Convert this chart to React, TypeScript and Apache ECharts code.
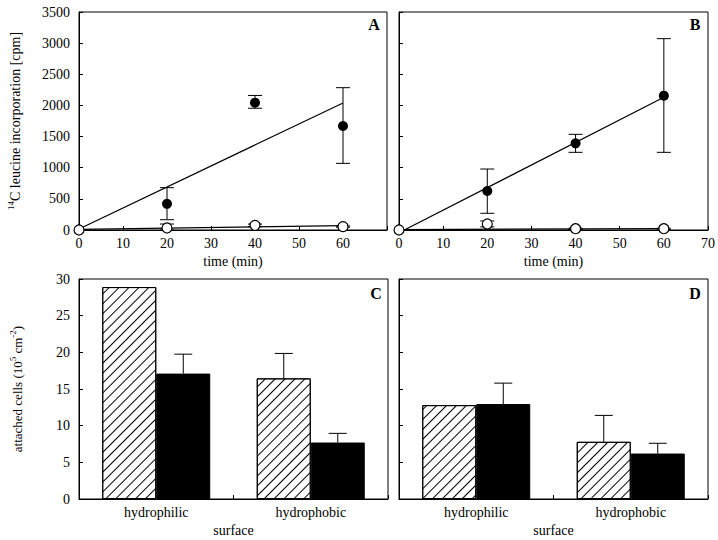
import React, { useEffect, useRef } from 'react';
import * as echarts from 'echarts';

const FONT = 'Liberation Serif';

// ---- Panels A & B: 14C leucine incorporation vs time ----
const timePoints = [0, 20, 40, 60];
const xTicks = { min: 0, max: 70, interval: 10 };
const yTicksLine = { min: 0, max: 3500, interval: 500 };

const filledA = [0, 420, 2045, 1670];
const filledALow = [0, 165, 1955, 1070];
const filledAHigh = [0, 680, 2160, 2285];
const openA = [0, 32, 75, 54];
const openALow = [0, 0, 55, 44];
const openAHigh = [0, 96, 95, 64];
const fitTimeA = [0, 60];
const fitFilledA = [15, 2040];
const fitOpenA = [10, 70];

const filledB = [0, 626, 1391, 2157];
const filledBLow = [0, 268, 1247, 1247];
const filledBHigh = [0, 979, 1536, 3072];
const openB = [0, 96, 21, 21];
const openBLow = [0, 50, 12, 14];
const openBHigh = [0, 145, 30, 28];
const fitTimeB = [1.2, 60];
const fitFilledB = [0, 2130];
const fitOpenB = [6, 22];

// ---- Panels C & D: attached cells ----
const surfaces = ['hydrophilic', 'hydrophobic'];
const yTicksBar = { min: 0, max: 30, interval: 5 };
const hatchedC = [28.9, 16.45];
const hatchedCErr = [null, 19.85];
const blackC = [17.1, 7.7];
const blackCErr = [19.75, 8.95];
const hatchedD = [12.8, 7.8];
const hatchedDErr = [null, 11.4];
const blackD = [12.95, 6.2];
const blackDErr = [15.8, 7.6];

const pairs = (xs: number[], ys: number[]) => xs.map((x, i) => [x, ys[i]]);
const errData = (lo: number[], hi: number[]) =>
  timePoints.map((t, i) => [t, lo[i], hi[i]]).filter((d) => d[2] > d[1]);
const barErrData = (vals: number[], errs: (number | null)[]) =>
  vals.map((v, i) => [i, v, errs[i]]).filter((d) => d[2] != null);

const blackLine = { color: '#000', width: 1 };

function lineErrRender(half: number) {
  return (params: any, api: any) => {
    const x = api.value(0);
    const a = api.coord([x, api.value(1)]);
    const b = api.coord([x, api.value(2)]);
    const st = { stroke: '#000', lineWidth: 1 };
    return {
      type: 'group',
      children: [
        { type: 'line', shape: { x1: a[0], y1: a[1], x2: b[0], y2: b[1] }, style: st },
        { type: 'line', shape: { x1: a[0] - half, y1: a[1], x2: a[0] + half, y2: a[1] }, style: st },
        { type: 'line', shape: { x1: b[0] - half, y1: b[1], x2: b[0] + half, y2: b[1] }, style: st },
      ],
    };
  };
}

function barErrRender(offset: number, half: number) {
  return (params: any, api: any) => {
    const c = api.value(0);
    const a = api.coord([c, api.value(1)]);
    const b = api.coord([c, api.value(2)]);
    const x = a[0] + offset;
    const st = { stroke: '#000', lineWidth: 1 };
    return {
      type: 'group',
      children: [
        { type: 'line', shape: { x1: x, y1: a[1], x2: x, y2: b[1] }, style: st },
        { type: 'line', shape: { x1: x - half, y1: b[1], x2: x + half, y2: b[1] }, style: st },
      ],
    };
  };
}

const labelStyle = { fontFamily: FONT, fontSize: 14, color: '#000' };

function valueX(gridIndex: number, hideMax: boolean) {
  return {
    type: 'value',
    gridIndex,
    ...xTicks,
    name: 'time (min)',
    nameLocation: 'middle',
    nameGap: 24,
    nameTextStyle: { fontFamily: FONT, fontSize: 14, color: '#000' },
    axisLine: { show: true, onZero: false, lineStyle: blackLine },
    axisTick: { show: true, inside: true, length: 4, lineStyle: blackLine },
    axisLabel: { ...labelStyle, margin: 6, formatter: (v: number) => (hideMax && v === 70 ? '' : String(v)) },
    splitLine: { show: false },
  };
}

function catX(gridIndex: number) {
  return {
    type: 'category',
    gridIndex,
    data: surfaces,
    name: 'surface',
    nameLocation: 'middle',
    nameGap: 24,
    nameTextStyle: { fontFamily: FONT, fontSize: 14, color: '#000' },
    axisLine: { show: true, lineStyle: blackLine },
    axisTick: { show: true, inside: true, length: 4, lineStyle: blackLine },
    axisLabel: { ...labelStyle, margin: 6 },
    splitLine: { show: false },
  };
}

function valueY(gridIndex: number, ticks: any, showLabels: boolean, name?: string, rich?: any, nameGap?: number) {
  return {
    type: 'value',
    gridIndex,
    ...ticks,
    name: name || '',
    nameLocation: 'middle',
    nameGap: nameGap || 50,
    nameTextStyle: { fontFamily: FONT, fontSize: 14, color: '#000', rich },
    axisLine: { show: true, onZero: false, lineStyle: blackLine },
    axisTick: { show: true, inside: true, length: 4, lineStyle: blackLine },
    axisLabel: { ...labelStyle, margin: 9, show: showLabels, formatter: (v: number) => String(v) },
    splitLine: { show: false },
  };
}

const richSup = {
  n: { fontFamily: FONT, fontSize: 14, color: '#000', lineHeight: 18 },
  s: { fontFamily: FONT, fontSize: 9, color: '#000', verticalAlign: 'top', lineHeight: 12 },
};
const richSupC = {
  n: { fontFamily: FONT, fontSize: 13, color: '#000', lineHeight: 18 },
  s: { fontFamily: FONT, fontSize: 9, color: '#000', verticalAlign: 'top', lineHeight: 12 },
};

const hatchDecal = {
  symbol: 'rect',
  symbolSize: 1,
  color: '#000',
  dashArrayX: [1, 0],
  dashArrayY: [1, 6],
  rotation: -Math.PI / 4,
};

function linePanel(g: number, filled: number[], lo: number[], hi: number[], open: number[], olo: number[], ohi: number[], fitT: number[], fitF: number[], fitO: number[]) {
  return [
    { type: 'line', xAxisIndex: g, yAxisIndex: g, data: pairs(fitT, fitF), showSymbol: false, lineStyle: { color: '#000', width: 1.2 }, z: 2 },
    { type: 'line', xAxisIndex: g, yAxisIndex: g, data: pairs(fitTimeA, fitO), showSymbol: false, lineStyle: { color: '#000', width: 1.2 }, z: 2 },
    { type: 'custom', xAxisIndex: g, yAxisIndex: g, data: errData(lo, hi), renderItem: lineErrRender(7), z: 3 },
    { type: 'custom', xAxisIndex: g, yAxisIndex: g, data: errData(olo, ohi), renderItem: lineErrRender(7), z: 3 },
    { type: 'scatter', xAxisIndex: g, yAxisIndex: g, data: pairs(timePoints, filled), symbol: 'circle', symbolSize: 10, itemStyle: { color: '#000', opacity: 1 }, z: 4 },
    { type: 'scatter', xAxisIndex: g, yAxisIndex: g, data: pairs(timePoints, open), symbol: 'circle', symbolSize: 10, itemStyle: { color: '#fff', borderColor: '#000', borderWidth: 1.2, opacity: 1 }, z: 5 },
  ];
}

function barPanel(g: number, hatched: number[], hErr: (number | null)[], black: number[], bErr: (number | null)[]) {
  return [
    { type: 'bar', xAxisIndex: g, yAxisIndex: g, data: hatched, barWidth: 54, barGap: '0%', itemStyle: { color: '#fff', borderColor: '#000', borderWidth: 1, decal: hatchDecal }, z: 2 },
    { type: 'bar', xAxisIndex: g, yAxisIndex: g, data: black, barWidth: 54, barGap: '0%', itemStyle: { color: '#000', borderColor: '#000', borderWidth: 1 }, z: 2 },
    { type: 'custom', xAxisIndex: g, yAxisIndex: g, data: barErrData(hatched, hErr), renderItem: barErrRender(-27, 9), z: 3 },
    { type: 'custom', xAxisIndex: g, yAxisIndex: g, data: barErrData(black, bErr), renderItem: barErrRender(27, 9), z: 3 },
  ];
}

const panelLetter = (text: string, x: number, y: number) => ({
  type: 'text',
  x,
  y,
  style: { text, fontFamily: FONT, fontSize: 16, fontWeight: 'bold', fill: '#000', align: 'center', verticalAlign: 'middle' },
  z: 10,
});

const gridBase = { show: true, borderColor: '#000', borderWidth: 1, backgroundColor: 'transparent', containLabel: false };

const option: any = {
  animation: false,
  backgroundColor: '#fff',
  textStyle: { fontFamily: FONT },
  grid: [
    { ...gridBase, left: 79, top: 12, width: 308, height: 218 },
    { ...gridBase, left: 399, top: 12, width: 309, height: 218 },
    { ...gridBase, left: 79, top: 279, width: 309, height: 220 },
    { ...gridBase, left: 399, top: 279, width: 309, height: 220 },
  ],
  xAxis: [valueX(0, true), valueX(1, false), catX(2), catX(3)],
  yAxis: [
    valueY(0, yTicksLine, true, '{s|14}{n|C leucine incorporation [cpm]}', richSup, 55),
    valueY(1, yTicksLine, false),
    valueY(2, yTicksBar, true, '{n|attached cells (10}{s|5}{n| cm}{s|-2}{n|)}', richSupC, 53),
    valueY(3, yTicksBar, false),
  ],
  graphic: [
    panelLetter('A', 374, 24),
    panelLetter('B', 695, 24),
    panelLetter('C', 376, 293),
    panelLetter('D', 695, 293),
  ],
  series: [
    ...linePanel(0, filledA, filledALow, filledAHigh, openA, openALow, openAHigh, fitTimeA, fitFilledA, fitOpenA),
    ...linePanel(1, filledB, filledBLow, filledBHigh, openB, openBLow, openBHigh, fitTimeB, fitFilledB, fitOpenB),
    ...barPanel(2, hatchedC, hatchedCErr, blackC, blackCErr),
    ...barPanel(3, hatchedD, hatchedDErr, blackD, blackDErr),
  ],
};

export default function App() {
  const ref = useRef<HTMLDivElement>(null);
  useEffect(() => {
    document.body.style.margin = '0';
    const chart = echarts.init(ref.current as HTMLDivElement, null, { renderer: 'svg' });
    chart.setOption(option);
    return () => chart.dispose();
  }, []);
  return <div ref={ref} style={{ width: 718, height: 540 }} />;
}
